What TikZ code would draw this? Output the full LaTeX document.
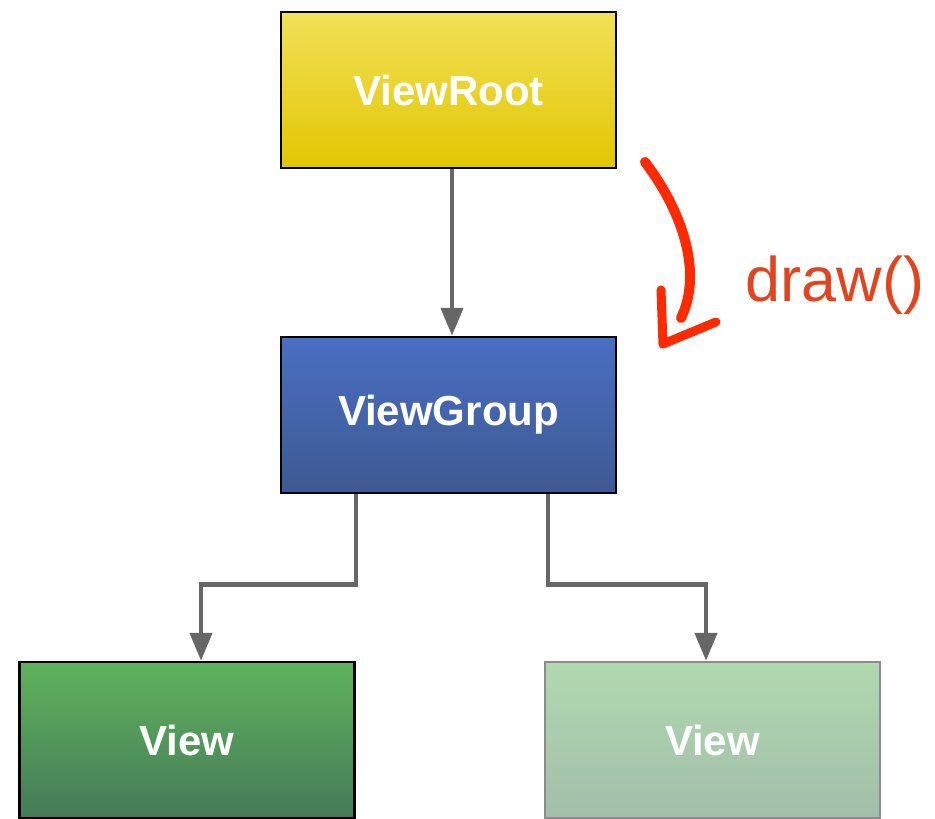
\documentclass[tikz,border=0pt]{standalone}
\usepackage{fontspec}
\setmainfont{Liberation Sans}
\usepackage{tikz}
\usepackage{xcolor}
\usetikzlibrary{arrows.meta}

\definecolor{rootTop}{HTML}{F2E058}
\definecolor{rootBot}{HTML}{E1C700}
\definecolor{groupTop}{HTML}{4A6EC2}
\definecolor{groupBot}{HTML}{3D5A92}
\definecolor{viewTop}{HTML}{5FB35D}
\definecolor{viewBot}{HTML}{457B58}
\definecolor{fadeTop}{HTML}{B0D9AF}
\definecolor{fadeBot}{HTML}{A2BEAA}
\definecolor{connGray}{HTML}{666666}
\definecolor{brushRed}{HTML}{FF2A00}
\definecolor{callRed}{HTML}{E0451F}

\begin{document}
\begin{tikzpicture}[x=1pt,y=-1pt,
		box/.style={minimum width=335pt,minimum height=156pt,inner sep=0pt,
			line width=2.5pt,draw=black,text=white,
			font=\fontsize{42}{50}\selectfont\bfseries},
		rootbox/.style={box,top color=rootTop,bottom color=rootBot},
		groupbox/.style={box,top color=groupTop,bottom color=groupBot},
		viewbox/.style={box,top color=viewTop,bottom color=viewBot},
		fadebox/.style={box,draw=black!45,top color=fadeTop,bottom color=fadeBot},
		conn/.style={connGray,line width=4.5pt,
			-{Triangle[width=22pt,length=28pt]}},
		brush/.style={brushRed,line width=10pt,line cap=round,line join=round}
	]
	\useasboundingbox (0,0) rectangle (935,819);

	% boxes
	\node[rootbox] (root) at (448.5,90) {ViewRoot};
	\node[groupbox] (group) at (448.5,415) {ViewGroup};
	\node[viewbox] (viewl) at (187,740) {View};
	\node[fadebox] (viewr) at (712.5,740) {View};

	% connectors
	\draw[conn] ([xshift=3.5pt]root.south) -- ([xshift=3.5pt]group.north);
	\draw[conn] ([xshift=-92.5pt]group.south) -- ++(0,90) -| ([xshift=14pt]viewl.north);
	\draw[conn] ([xshift=99.5pt]group.south) -- ++(0,90) -| ([xshift=-6.5pt]viewr.north);

	% draw() call
	\coordinate (brushstart) at (645,162);
	\coordinate (brushend) at (681,318);
	\coordinate (tipcorner) at (663,344);
	\draw[brush] (brushstart) .. controls (685,215) and (702,275) .. (brushend);
	\draw[brush,line width=9pt] (661,290) -- (tipcorner) -- (716,322);
	\node[callRed,font=\fontsize{63}{70}\selectfont,anchor=west] (call) at (742,285) {draw()};
\end{tikzpicture}
\end{document}
